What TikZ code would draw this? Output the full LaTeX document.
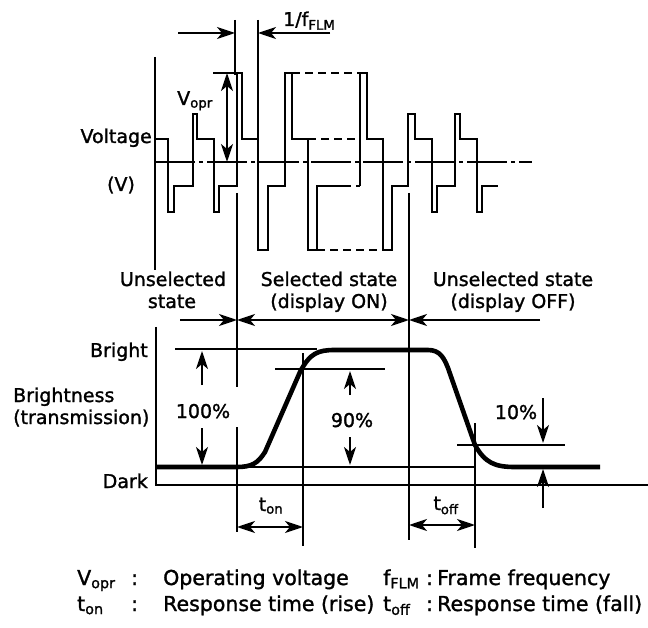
\documentclass[tikz,border=0pt]{standalone}
\usepackage{fontspec}
\setmainfont{DejaVu Sans}[FakeBold=1.4]
\usetikzlibrary{arrows.meta}
\begin{document}
\begin{tikzpicture}[x=1pt,y=-1pt,
  wave/.style={line width=2.8pt, line join=miter},
  wdash/.style={line width=2.8pt, dash pattern=on 8pt off 5pt},
  thinln/.style={line width=2pt},
  curve/.style={line width=4.6pt, line join=round},
  tip/.style={Stealth[length=18pt,width=12pt,inset=5pt]},
  arr/.style={line width=2pt,-{Stealth[length=18pt,width=12pt,inset=5pt]}},
  darr/.style={line width=2pt,{Stealth[length=18pt,width=12pt,inset=5pt]}-{Stealth[length=18pt,width=12pt,inset=5pt]}},
  lab/.style={font=\fontsize{19}{22}\selectfont, inner sep=0pt, anchor=base},
  leg/.style={font=\fontsize{20.5}{24}\selectfont, inner sep=0pt, anchor=base west},
]
\useasboundingbox (0,0) rectangle (648,628);

% ---------- voltage waveform ----------
\draw[line width=2.4pt, dash pattern=on 40pt off 4pt on 4pt off 4pt] (155,162) -- (532,162);
\draw[wave] (155,57) -- (155,270);
\draw[wave] (155,139) -- (168,139) -- (168,212) -- (174,212) -- (174,186) -- (193,186)
  -- (193,114) -- (197,114) -- (197,139) -- (214,139) -- (214,212) -- (219,212)
  -- (219,186) -- (237,186) -- (237,73) -- (242,73) -- (242,139) -- (258,139)
  -- (258,250) -- (268,250) -- (268,186) -- (285,186) -- (285,73) -- (292,73)
  -- (292,139) -- (308,139) -- (308,250) -- (317,250) -- (317,186) -- (343,186);
\draw[wave] (360,186) -- (360,73) -- (367,73) -- (367,139) -- (383,139) -- (383,250)
  -- (392,250) -- (392,186) -- (408,186) -- (408,114) -- (415,114) -- (415,139)
  -- (432,139) -- (432,212) -- (437,212) -- (437,186) -- (455,186) -- (455,114)
  -- (460,114) -- (460,139) -- (477,139) -- (477,212) -- (482,212) -- (482,186)
  -- (498,186);
\draw[wdash] (343,186) -- (360,186);
\draw[wdash] (292,73) -- (360,73);
\draw[wdash] (308,139) -- (360,139);
\draw[wdash] (317,250) -- (383,250);

% V_opr
\coordinate (vt) at (227,73);
\coordinate (vb) at (227,162);
\draw[thinln] (213,73) -- (237,73);
\draw[darr] (vt) -- (vb);
\node[lab, anchor=base west] (vopr) at (177,105) {V\textsubscript{opr}};

% 1/f_FLM markers
\coordinate (m1t) at (235,20);
\coordinate (m1b) at (235,75);
\coordinate (m2t) at (258,20);
\coordinate (m2b) at (258,139);
\draw[thinln] (m1t) -- (m1b);
\draw[thinln] (m2t) -- (m2b);
\coordinate (fa1) at (178,33);
\coordinate (fa2) at (235,33);
\coordinate (fb1) at (330,33);
\coordinate (fb2) at (258,33);
\draw[arr] (fa1) -- (fa2);
\draw[arr] (fb1) -- (fb2);
\node[lab, anchor=base west] (ffl) at (283,26) {1/f\textsubscript{FLM}};

\node[lab, anchor=base east] (volt) at (152,143) {Voltage};
\node[lab] (vunit) at (121,191) {(V)};

% ---------- state boundaries ----------
\coordinate (b1a) at (237,193);
\coordinate (b1b) at (237,387);
\coordinate (b1c) at (237,427);
\coordinate (b1d) at (237,532);
\draw[thinln] (b1a) -- (b1b);
\draw[thinln] (b1c) -- (b1d);
\coordinate (b2a) at (409,193);
\coordinate (b2b) at (409,540);
\draw[thinln] (b2a) -- (b2b);

\coordinate (s1) at (180,320);
\coordinate (s2) at (237,320);
\coordinate (s3) at (409,320);
\coordinate (s4) at (540,320);
\draw[arr] (s1) -- (s2);
\draw[darr] (s2) -- (s3);
\draw[arr] (s4) -- (s3);

\node[lab] (u1a) at (173,286) {Unselected};
\node[lab] (u1b) at (172,308) {state};
\node[lab] (sa) at (329,286) {Selected state};
\node[lab] (sb) at (329,308) {(display ON)};
\node[lab] (u2a) at (513,286) {Unselected state};
\node[lab] (u2b) at (513,308) {(display OFF)};

% ---------- brightness ----------
\draw[thinln] (156,327) -- (156,485) -- (648,485);
\draw[thinln] (175,349) -- (317,349);
\draw[thinln] (275,369) -- (385,369);
\draw[thinln] (156,467) -- (475,467);
\draw[thinln] (457,445) -- (565,445);
\draw[thinln] (303,353) -- (303,546);
\draw[thinln] (475,423) -- (475,548);

\draw[curve] (157,467) -- (237,467) .. controls (252,467) and (258,463) .. (265,452)
  -- (300,372) .. controls (310,353) and (318,350) .. (335,350) -- (428,350)
  .. controls (440,350) and (444,358) .. (448,368) -- (475,445)
  .. controls (485,463) and (495,467) .. (515,467) -- (600,467);

\node[lab, anchor=base east] (br) at (148,357) {Bright};
\node[lab, anchor=base east] (dk) at (148,488) {Dark};
\node[lab, anchor=base west] (bn) at (13,402) {Brightness};
\node[lab, anchor=base west] (tr) at (13,424) {(transmission)};

% 100%
\coordinate (p1a) at (202,385);
\coordinate (p1b) at (202,351);
\coordinate (p1c) at (202,428);
\coordinate (p1d) at (202,465);
\draw[arr] (p1a) -- (p1b);
\draw[arr] (p1c) -- (p1d);
\node[lab] (l100) at (203,418) {100\%};

% 90%
\coordinate (p2a) at (350,395);
\coordinate (p2b) at (350,371);
\coordinate (p2c) at (350,437);
\coordinate (p2d) at (350,465);
\draw[arr] (p2a) -- (p2b);
\draw[arr] (p2c) -- (p2d);
\node[lab] (l90) at (352,427) {90\%};

% 10%
\coordinate (p3a) at (543,398);
\coordinate (p3b) at (543,443);
\coordinate (p3c) at (543,508);
\coordinate (p3d) at (543,469);
\draw[arr] (p3a) -- (p3b);
\draw[arr] (p3c) -- (p3d);
\node[lab] (l10) at (516,419) {10\%};

% t_on / t_off
\coordinate (ton1) at (237,527);
\coordinate (ton2) at (303,527);
\draw[darr] (ton1) -- (ton2);
\node[lab] (lton) at (271,511) {t\textsubscript{on}};
\coordinate (tof1) at (409,525);
\coordinate (tof2) at (475,525);
\draw[darr] (tof1) -- (tof2);
\node[lab] (ltof) at (446,510) {t\textsubscript{off}};

% ---------- legend ----------
\node[leg] (g1) at (77,585) {V\textsubscript{opr}};
\node[leg] (g2) at (131,585) {:};
\node[leg] (g3) at (163,585) {Operating voltage};
\node[leg] (g4) at (383,585) {f\textsubscript{FLM}};
\node[leg] (g5) at (426,585) {:};
\node[leg] (g6) at (437,585) {Frame frequency};
\node[leg] (g7) at (77,611) {t\textsubscript{on}};
\node[leg] (g8) at (131,611) {:};
\node[leg] (g9) at (163,611) {Response time (rise)};
\node[leg] (g10) at (383,611) {t\textsubscript{off}};
\node[leg] (g11) at (426,611) {:};
\node[leg] (g12) at (437,611) {Response time (fall)};
\end{tikzpicture}
\end{document}
